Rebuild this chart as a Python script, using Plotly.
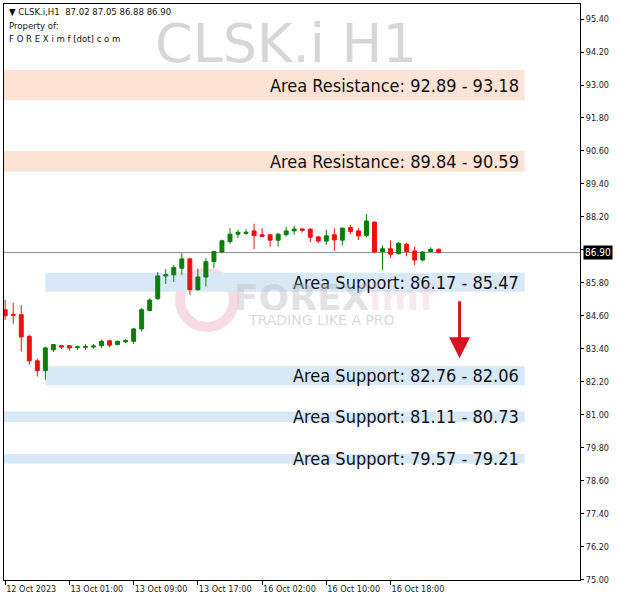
import plotly.graph_objects as go

# ---------------- data ----------------
time_labels = ["12 Oct 2023", "13 Oct 01:00", "13 Oct 09:00", "13 Oct 17:00",
               "16 Oct 02:00", "16 Oct 10:00", "16 Oct 18:00"]
label_index = [0, 8, 16, 24, 32, 40, 48]

opens = [84.82, 84.65, 84.64, 83.85, 82.96, 82.60, 83.36, 83.51, 83.51, 83.44, 83.45, 83.46, 83.51, 83.69, 83.55,
         83.65, 83.67, 84.12, 84.79, 85.22, 86.05, 86.09, 86.33, 86.67, 85.55, 86.01, 86.57, 86.92, 87.30, 87.57,
         87.60, 87.69, 87.55, 87.55, 87.35, 87.55, 87.69, 87.76, 87.75, 87.47, 87.32, 87.55, 87.35, 87.81, 87.69,
         87.52, 88.01, 86.94, 87.04, 86.86, 87.20, 86.96, 86.63, 86.94, 87.02]
highs = [85.18, 85.07, 84.99, 83.91, 83.04, 83.48, 83.57, 83.51, 83.52, 83.51, 83.57, 83.57, 83.73, 83.73, 83.70,
         83.75, 84.15, 84.88, 85.24, 86.19, 86.30, 86.45, 86.88, 86.72, 86.31, 86.70, 86.96, 87.37, 87.79, 87.73,
         87.75, 87.95, 87.79, 87.55, 87.61, 87.85, 87.88, 87.79, 87.79, 87.51, 87.73, 87.79, 87.81, 87.91, 87.79,
         88.30, 88.03, 87.16, 87.34, 87.28, 87.26, 87.12, 86.96, 87.09, 87.05]
lows = [84.45, 84.31, 83.30, 82.82, 82.39, 82.27, 83.28, 83.39, 83.33, 83.35, 83.36, 83.40, 83.43, 83.45, 83.52,
        83.60, 83.58, 84.03, 84.76, 85.18, 85.76, 85.83, 86.09, 85.36, 85.51, 85.67, 86.33, 86.89, 87.22, 87.43,
        87.55, 87.03, 87.49, 87.11, 87.12, 87.49, 87.55, 87.63, 87.28, 87.24, 87.18, 86.96, 87.16, 87.57, 87.36,
        87.46, 86.88, 86.27, 86.70, 86.83, 86.76, 86.45, 86.57, 86.92, 86.88]
closes = [84.60, 84.62, 83.83, 82.96, 82.60, 83.43, 83.55, 83.46, 83.43, 83.47, 83.48, 83.50, 83.67, 83.53, 83.67,
          83.70, 84.12, 84.82, 85.17, 86.05, 86.09, 86.36, 86.67, 85.55, 86.01, 86.57, 86.94, 87.33, 87.57, 87.64,
          87.64, 87.52, 87.49, 87.35, 87.57, 87.69, 87.76, 87.71, 87.46, 87.32, 87.51, 87.36, 87.79, 87.67, 87.51,
          88.05, 86.92, 87.04, 86.84, 87.24, 86.94, 86.63, 86.92, 87.02, 86.90]
bar_index = list(range(len(opens)))

last_price = 86.90
y_ticks = [95.40, 94.20, 93.00, 91.80, 90.60, 89.40, 88.20, 87.00, 85.80, 84.60, 83.40, 82.20,
           81.00, 79.80, 78.60, 77.40, 76.20, 75.00]

zone_labels = ["Area Resistance: 92.89 - 93.18", "Area Resistance: 89.84 - 90.59",
               "Area Support: 86.17 - 85.47", "Area Support: 82.76 - 82.06",
               "Area Support: 81.11 - 80.73", "Area Support: 79.57 - 79.21"]
zone_top = [93.55, 90.60, 86.17, 82.76, 81.11, 79.57]
zone_bottom = [92.45, 89.84, 85.47, 82.06, 80.73, 79.21]
zone_start = [-1, -1, 5, 5, -1, -1]
zone_end = 64.7
zone_kind = ["res", "res", "sup", "sup", "sup", "sup"]

arrow_x = 56.6
arrow_from = 85.18
arrow_to = 83.05

header_line = "\u25BC CLSK.i,H1  87.02 87.05 86.88 86.90"

# ---------------- figure ----------------
W, H = 620, 606
L, R, T, B = 4, 40, 4, 26
PW, PH = W - L - R, H - T - B
FONT = "DejaVu Sans Condensed, Tahoma, DejaVu Sans, sans-serif"


def px(x):
    return (x - L) / PW


def py(y):
    return (T + PH - y) / PH


fig = go.Figure()

fig.add_trace(go.Candlestick(
    x=bar_index, open=opens, high=highs, low=lows, close=closes,
    increasing=dict(line=dict(color="#0b7d0b", width=1), fillcolor="#0b7d0b"),
    decreasing=dict(line=dict(color="#ee1111", width=1), fillcolor="#ee1111"),
    whiskerwidth=0, showlegend=False, hoverinfo="skip",
))

shapes = []
annotations = []
colors = {"res": "#fce3d6", "sup": "#d8e8f7"}
for lab, top, bot, x0, kind in zip(zone_labels, zone_top, zone_bottom, zone_start, zone_kind):
    shapes.append(dict(type="rect", xref="x", yref="y", x0=x0, x1=zone_end, y0=bot, y1=top,
                       fillcolor=colors[kind], line=dict(width=0), layer="below"))
    annotations.append(dict(x=zone_end - 0.4, y=(top + bot) / 2, xref="x", yref="y", text=lab,
                            showarrow=False, xanchor="right", yanchor="middle",
                            font=dict(family=FONT, size=18, color="#111111")))

# price line
shapes.append(dict(type="line", xref="paper", yref="y", x0=0, x1=1, y0=last_price, y1=last_price,
                   line=dict(color="#8a8a8a", width=1), layer="below"))

# watermark logo ring
shapes.append(dict(type="circle", xref="paper", yref="paper",
                   x0=px(180), x1=px(234), y0=py(327), y1=py(273),
                   line=dict(color="rgba(225,140,160,0.30)", width=10), layer="below"))

# title watermark
annotations.append(dict(x=px(286), y=py(43), xref="paper", yref="paper", text="CLSK.i H1",
                        showarrow=False, xanchor="center", yanchor="middle",
                        font=dict(family="DejaVu Sans, sans-serif", size=54, color="#d6d6d6")))
# header texts
annotations.append(dict(x=px(7), y=py(12), xref="paper", yref="paper", text=header_line,
                        showarrow=False, xanchor="left", yanchor="middle",
                        font=dict(family=FONT, size=9.5, color="#111111")))
annotations.append(dict(x=px(7), y=py(26), xref="paper", yref="paper", text="Property of:",
                        showarrow=False, xanchor="left", yanchor="middle",
                        font=dict(family=FONT, size=9.5, color="#111111")))
annotations.append(dict(x=px(7), y=py(39), xref="paper", yref="paper",
                        text="F O R E X i m f [dot] c o m",
                        showarrow=False, xanchor="left", yanchor="middle",
                        font=dict(family=FONT, size=9.5, color="#111111")))
# logo text
annotations.append(dict(x=px(232), y=py(297), xref="paper", yref="paper",
                        text="<b>FOREX</b><b><span style='color:rgba(230,170,185,0.55)'>imf</span></b>",
                        showarrow=False, xanchor="left", yanchor="middle",
                        font=dict(family="DejaVu Sans, sans-serif", size=36, color="rgba(190,190,195,0.45)")))
annotations.append(dict(x=px(321), y=py(320), xref="paper", yref="paper",
                        text="TRADING LIKE A PRO",
                        showarrow=False, xanchor="center", yanchor="middle",
                        font=dict(family="DejaVu Sans, sans-serif", size=14, color="rgba(180,180,185,0.5)")))
# red arrow
annotations.append(dict(x=arrow_x, y=arrow_to, ax=arrow_x, ay=arrow_from, xref="x", yref="y",
                        axref="x", ayref="y", text="", showarrow=True, arrowhead=2, arrowsize=1.4,
                        arrowwidth=3, arrowcolor="#d8121f"))
# last price box
annotations.append(dict(x=1.0, y=last_price, xref="paper", yref="y", text=f"{last_price:.2f}",
                        showarrow=False, xanchor="left", yanchor="middle", xshift=3,
                        bgcolor="#000000", borderpad=1,
                        font=dict(family=FONT, size=10, color="#ffffff")))

y_text = ["" if abs(v - 87.00) < 1e-9 else f"{v:.2f}" for v in y_ticks]

fig.update_layout(
    width=W, height=H,
    margin=dict(l=L, r=R, t=T, b=B, autoexpand=False),
    paper_bgcolor="#ffffff", plot_bgcolor="#ffffff",
    shapes=shapes, annotations=annotations,
    showlegend=False,
    xaxis=dict(range=[-0.15, 71.6], rangeslider=dict(visible=False), showgrid=False, zeroline=False,
               automargin=False, tickangle=0,
               tickmode="array", tickvals=label_index, ticktext=time_labels,
               ticks="outside", ticklen=4, tickcolor="#000000", ticklabelposition="outside right",
               tickfont=dict(family=FONT, size=9, color="#222222"),
               showline=True, linecolor="#000000", linewidth=1, mirror=True),
    yaxis=dict(range=[74.98, 95.95], side="right", showgrid=False, zeroline=False,
               automargin=False,
               tickmode="array", tickvals=y_ticks, ticktext=y_text,
               ticks="outside", ticklen=3, tickcolor="#000000",
               tickfont=dict(family=FONT, size=9, color="#222222"),
               showline=True, linecolor="#000000", linewidth=1, mirror=True),
)

fig.write_html("out.html", config={"displayModeBar": False},
               post_script="document.body.style.margin='0px';document.body.style.padding='0px';")
